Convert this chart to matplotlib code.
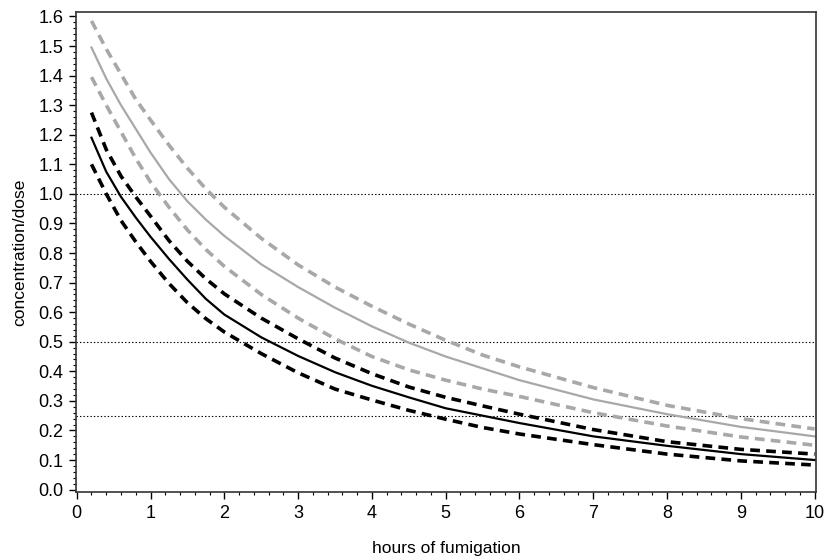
import matplotlib
matplotlib.use("Agg")
import matplotlib.pyplot as plt
from matplotlib.ticker import MultipleLocator

plt.rcParams['font.family'] = ['Liberation Sans', 'DejaVu Sans']
plt.rcParams['lines.scale_dashes'] = False

# hours of fumigation
hours = [0.2, 0.4, 0.6, 0.8, 1.0, 1.25, 1.5, 1.75, 2.0, 2.5, 3.0, 3.5,
         4.0, 4.5, 5.0, 5.5, 6.0, 7.0, 8.0, 9.0, 10.0]

# grey curves
grey_mid = [1.495, 1.39, 1.30, 1.22, 1.14, 1.05, 0.975, 0.913, 0.858, 0.762, 0.685, 0.615,
            0.552, 0.497, 0.45, 0.41, 0.37, 0.305, 0.255, 0.212, 0.18]
grey_hi = [1.585, 1.49, 1.405, 1.32, 1.25, 1.165, 1.087, 1.017, 0.955, 0.85, 0.76, 0.685,
           0.62, 0.56, 0.505, 0.455, 0.415, 0.345, 0.285, 0.24, 0.205]
grey_lo = [1.395, 1.30, 1.21, 1.12, 1.04, 0.955, 0.878, 0.812, 0.755, 0.66, 0.58, 0.51,
           0.45, 0.405, 0.37, 0.34, 0.315, 0.26, 0.215, 0.178, 0.15]

# black curves
black_mid = [1.19, 1.075, 0.99, 0.92, 0.855, 0.78, 0.71, 0.645, 0.592, 0.515, 0.452, 0.397,
             0.351, 0.312, 0.275, 0.25, 0.225, 0.18, 0.148, 0.12, 0.10]
black_hi = [1.275, 1.15, 1.06, 0.99, 0.925, 0.842, 0.772, 0.713, 0.662, 0.58, 0.51, 0.445,
            0.392, 0.347, 0.312, 0.283, 0.255, 0.203, 0.162, 0.136, 0.12]
black_lo = [1.10, 1.0, 0.91, 0.838, 0.772, 0.697, 0.632, 0.578, 0.533, 0.46, 0.395, 0.34,
            0.303, 0.268, 0.238, 0.21, 0.188, 0.152, 0.12, 0.097, 0.083]

ref_levels = [1.0, 0.5, 0.25]

fig = plt.figure(figsize=(8.26, 5.6), dpi=100)
ax = fig.add_axes([0.092, 0.121, 0.896, 0.858])

for lvl in ref_levels:
    ax.axhline(lvl, color='black', lw=0.8, linestyle=(0, (1, 1.5)), zorder=1)

grey = '#a8a8a8'
dash = (7, 4.5)
ax.plot(hours, grey_hi, color=grey, lw=2.6, dashes=dash)
ax.plot(hours, grey_mid, color=grey, lw=1.6)
ax.plot(hours, grey_lo, color=grey, lw=2.6, dashes=dash)
ax.plot(hours, black_hi, color='black', lw=2.6, dashes=dash)
ax.plot(hours, black_mid, color='black', lw=1.6)
ax.plot(hours, black_lo, color='black', lw=2.6, dashes=dash)

ax.set_xlim(-0.01, 10.02)
ax.set_ylim(-0.009, 1.616)
ax.xaxis.set_major_locator(MultipleLocator(1))
ax.xaxis.set_minor_locator(MultipleLocator(0.2))
ax.yaxis.set_major_locator(MultipleLocator(0.1))
ax.yaxis.set_minor_locator(MultipleLocator(0.02))
ax.yaxis.set_major_formatter(plt.FormatStrFormatter('%.1f'))
ax.tick_params(which='major', length=5, width=1, labelsize=13, direction='out', pad=4)
ax.tick_params(which='minor', length=2.5, width=0.8, direction='out')
for s in ax.spines.values():
    s.set_color('#333333')
    s.set_linewidth(1.2)

ax.set_xlabel('hours of fumigation', fontsize=12.5, labelpad=14)
ax.set_ylabel('concentration/dose', fontsize=12.5, labelpad=8)

fig.savefig('out.png', dpi=100)
